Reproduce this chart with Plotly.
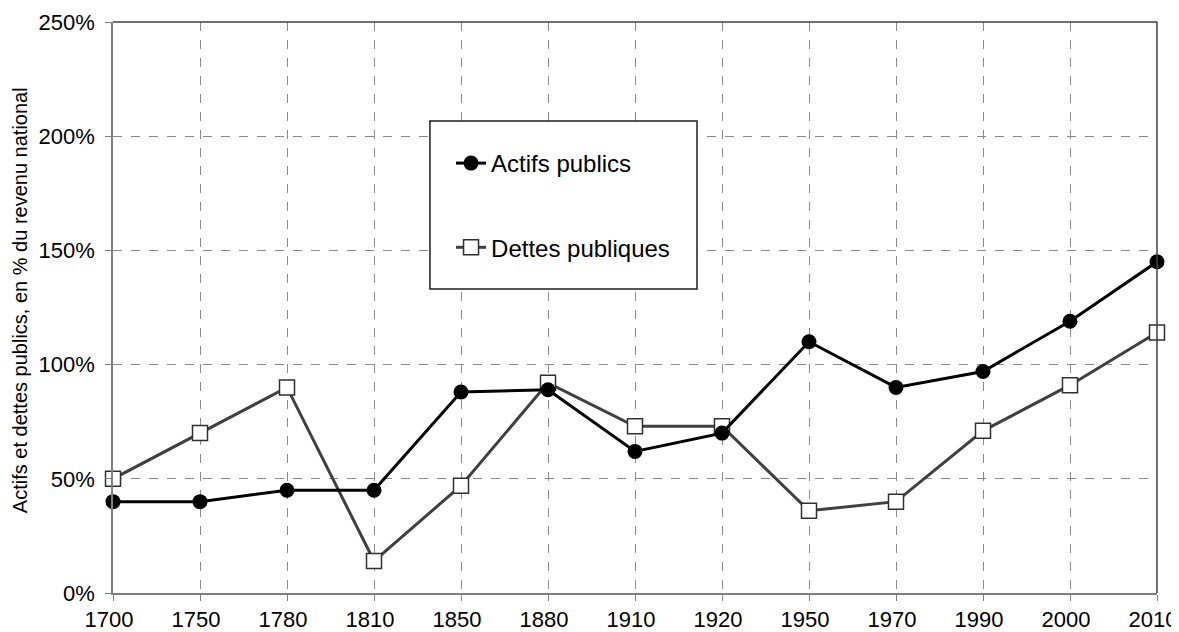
import plotly.graph_objects as go

years = ["1700", "1750", "1780", "1810", "1850", "1880", "1910", "1920",
         "1950", "1970", "1990", "2000", "2010"]
actifs = [40, 40, 45, 45, 88, 89, 62, 70, 110, 90, 97, 119, 145]
dettes = [50, 70, 90, 14, 47, 92, 73, 73, 36, 40, 71, 91, 114]
y_title = "Actifs et dettes publics, en % du revenu national"

fig = go.Figure()
fig.add_trace(go.Scatter(
    x=years, y=dettes, name="Dettes publiques", mode="lines+markers",
    line=dict(color="#404040", width=3),
    marker=dict(symbol="square", size=15, color="white",
                line=dict(color="#303030", width=1.5)),
    cliponaxis=False, legendgroup="b", legendrank=2))
fig.add_trace(go.Scatter(
    x=years, y=actifs, name="Actifs publics", mode="lines+markers",
    line=dict(color="black", width=3),
    marker=dict(symbol="circle", size=15, color="black"),
    cliponaxis=False, legendgroup="a", legendrank=1))

font = "Liberation Sans, Arial, sans-serif"
fig.update_layout(
    width=1171, height=624,
    margin=dict(l=105, r=22, t=14, b=39),
    paper_bgcolor="white", plot_bgcolor="white",
    font=dict(family=font, color="black"),
    showlegend=True,
    legend=dict(x=0.3238, y=0.7916, xanchor="left", yanchor="top",
                borderwidth=0, bgcolor="rgba(0,0,0,0)",
                font=dict(size=24, family=font), tracegroupgap=50,
                traceorder="grouped", itemwidth=30),
    xaxis=dict(type="category", range=[0, 12], showgrid=True,
               gridcolor="#8a8a8a", griddash="dash", gridwidth=1,
               showline=True, linecolor="#808080", linewidth=1.5,
               ticks="outside", ticklen=6, tickcolor="#808080",
               tickfont=dict(size=22), zeroline=False, automargin=False,
               ticklabelshift=-4),
    yaxis=dict(range=[0, 250], dtick=50, ticksuffix="%", showgrid=True,
               gridcolor="#8a8a8a", griddash="dash", gridwidth=1,
               showline=True, linecolor="#808080", linewidth=1.5,
               ticks="outside", ticklen=6, tickcolor="#808080",
               tickfont=dict(size=22), zeroline=False, automargin=False,
               ticklabelstandoff=6),
    annotations=[dict(text=y_title, xref="paper", yref="paper",
                      x=-0.089, y=0.513, textangle=-90, showarrow=False,
                      xanchor="center", yanchor="middle",
                      font=dict(size=20, family=font, color="black"))],
    shapes=[
        dict(type="line", xref="paper", yref="paper", x0=0, x1=1, y0=1, y1=1,
             line=dict(color="#404040", width=1.5)),
        dict(type="line", xref="paper", yref="paper", x0=1, x1=1, y0=0, y1=1,
             line=dict(color="#404040", width=1.5)),
        dict(type="rect", xref="paper", yref="paper", x0=0.3036, x1=0.5594,
             y0=0.5324, y1=0.8266, fillcolor="white",
             line=dict(color="#202020", width=1.5), layer="above"),
    ],
)
fig.write_html("out.html")
